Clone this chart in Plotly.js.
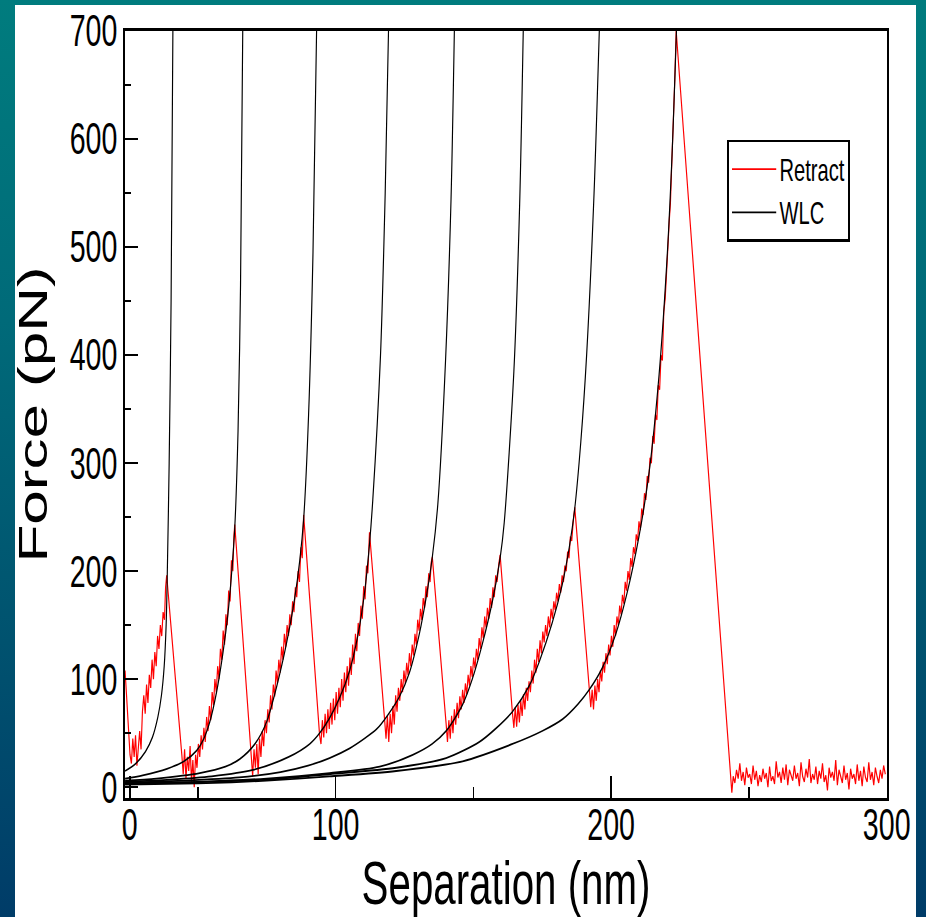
<!DOCTYPE html>
<html><head><meta charset="utf-8">
<script src="https://cdn.plot.ly/plotly-3.0.1.min.js"></script>
<style>
html,body{margin:0;padding:0;width:926px;height:917px;overflow:hidden;}
body{background:linear-gradient(to bottom,#007c7e 0%,#006a79 35%,#00526f 70%,#003c68 100%);position:relative;}
#panel{position:absolute;left:15px;top:5px;width:901px;height:912px;background:#fff;}
#chart{position:absolute;left:0;top:0;width:1425px;height:917px;transform:scaleX(0.65);transform-origin:0 0;}
</style></head><body><div id="panel"></div><div id="chart"></div>
<script>
// Separation (nm) / Force (pN) pairs
const retractPoints = [
[23.6,108],[24.2,80],[24.8,55],[25.4,30],[25.9,22],[26.4,45],[26.9,28],[27.4,48],[27.9,20],[28.4,38],[28.9,52],[29.4,35],[29.9,70],[30.4,85],[30.9,68],[31.4,95],[31.9,78],[32.4,104],[32.9,92],[33.4,118],[33.9,100],[34.4,125],[34.9,112],[35.4,140],[35.9,128],[36.4,150],[36.9,140],[37.4,162],[37.9,155],[38.3,185],[38.7,196],
[44.2,30],[44.7,12],[45.2,35],[45.7,8],[46.2,28],[46.7,15],[47.2,38],[47.7,5],[48.2,25],[48.7,0],[49.2,30],[49.7,18],[50.2,40],[50.7,28],[51.2,48],[51.7,35],[52.2,55],[52.7,42],[53.2,65],[53.7,52],[54.2,75],[54.7,62],[55.2,88],[55.7,76],[56.2,100],[56.7,88],[57.2,112],[57.7,100],[58.2,128],[58.7,118],[59.2,145],[59.7,132],[60.2,160],[60.7,150],[61.2,182],[61.7,172],[62.2,210],[62.7,200],[63.1,232],[63.4,243],
[69.5,25],[69.9,10],[70.4,35],[70.9,18],[71.4,40],[71.9,12],[72.4,45],[72.9,28],[73.4,52],[73.9,38],[74.4,62],[74.9,50],[75.4,72],[75.9,60],[76.4,85],[76.9,72],[77.4,95],[77.9,84],[78.4,108],[78.9,96],[79.4,118],[79.9,106],[80.4,130],[80.9,118],[81.4,142],[81.9,130],[82.4,150],[82.9,140],[83.4,160],[83.9,150],[84.4,172],[84.9,162],[85.4,185],[85.9,176],[86.4,200],[86.9,190],[87.4,222],[87.9,212],[88.4,252],
[94.2,48],[94.7,40],[95.2,62],[95.7,46],[96.2,68],[96.7,50],[97.2,72],[97.7,54],[98.2,78],[98.7,58],[99.2,82],[99.7,62],[100.2,88],[100.7,68],[101.2,92],[101.7,74],[102.2,100],[102.7,80],[103.2,106],[103.7,88],[104.2,112],[104.7,94],[105.2,120],[105.7,104],[106.2,132],[106.7,114],[107.2,142],[107.7,126],[108.2,152],[108.7,140],[109.2,168],[109.7,156],[110.2,186],[110.7,174],[111.2,205],[111.7,198],[112.3,236],
[117.8,62],[118.3,45],[118.8,66],[119.3,42],[119.8,68],[120.3,50],[120.8,75],[121.3,58],[121.8,85],[122.3,70],[122.8,92],[123.3,80],[123.8,100],[124.3,88],[124.8,108],[125.3,96],[125.8,115],[126.3,104],[126.8,124],[127.3,112],[127.8,132],[128.3,122],[128.8,142],[129.3,132],[129.8,155],[130.3,145],[130.8,165],[131.3,155],[131.8,175],[132.3,166],[132.8,186],[133.3,176],[133.8,198],[134.3,190],[134.7,208],[135.1,213],
[140.1,59],[140.6,42],[141.1,62],[141.6,45],[142.1,66],[142.6,50],[143.1,72],[143.6,58],[144.1,78],[144.6,64],[145.1,84],[145.6,72],[146.1,90],[146.6,78],[147.1,96],[147.6,86],[148.1,104],[148.6,94],[149.1,112],[149.6,102],[150.1,120],[150.6,110],[151.1,128],[151.6,118],[152.1,138],[152.6,128],[153.1,148],[153.6,138],[154.1,158],[154.6,148],[155.1,166],[155.6,156],[156.1,175],[156.6,166],[157.1,185],[157.6,176],[158.1,196],[158.6,190],[159.2,206],[159.7,215],
[164.2,68],[164.7,55],[165.2,74],[165.7,56],[166.2,76],[166.7,60],[167.2,80],[167.7,66],[168.2,86],[168.7,72],[169.2,92],[169.7,80],[170.2,98],[170.7,88],[171.2,108],[171.7,96],[172.2,118],[172.7,106],[173.2,128],[173.7,116],[174.2,136],[174.7,124],[175.2,144],[175.7,134],[176.2,150],[176.7,140],[177.2,158],[177.7,148],[178.2,165],[178.7,156],[179.2,172],[179.7,164],[180.2,180],[180.7,172],[181.2,188],[181.7,180],[182.2,196],[182.7,190],[183.2,205],[183.7,200],[184.2,218],[184.7,212],[185.2,232],[185.7,228],[186.2,245],[186.8,259],
[192.6,74],[193.1,90],[193.6,72],[194.1,94],[194.6,80],[195.1,100],[195.6,88],[196.1,108],[196.6,98],[197.1,116],[197.6,106],[198.1,124],[198.6,114],[199.1,132],[199.6,122],[200.1,140],[200.6,130],[201.1,150],[201.6,140],[202.1,158],[202.6,150],[203.1,168],[203.6,160],[204.1,178],[204.6,170],[205.1,190],[205.6,182],[206.1,200],[206.6,192],[207.1,212],[207.6,204],[208.1,222],[208.6,216],[209.1,234],[209.6,228],[210.1,246],[210.6,238],[211.1,258],[211.6,252],[212.1,272],[212.6,266],[213.1,288],[213.6,282],[214.1,305],[214.6,300],[215.1,325],[215.6,318],[216.1,345],[216.6,340],[217.1,372],[217.6,368],[218.1,400],[218.6,395],[219.1,440],[219.6,452],[220.1,480],[220.6,500],[221.1,525],[221.5,540],[221.9,570],[222.3,595],[222.7,625],[223.1,655],[223.6,700],
[243.8,-5],[244.3,10],[244.9,4],[245.5,16],[246.1,8],[246.7,22],[247.3,6],[247.9,14],[248.5,2],[249.1,18],[249.7,9],[250.3,12],[250.9,3],[251.5,20],[252.1,7],[252.7,15],[253.3,1],[253.9,11],[254.5,5],[255.1,17],[255.7,8],[256.3,13],[256.9,0],[257.5,19],[258.1,6],[258.7,10],[259.3,3],[259.9,24],[260.5,9],[261.1,14],[261.7,4],[262.3,18],[262.9,7],[263.5,21],[264.1,2],[264.7,16],[265.3,11],[265.9,6],[266.5,20],[267.1,8],[267.7,13],[268.3,1],[268.9,23],[269.5,10],[270.1,5],[270.7,17],[271.3,9],[271.9,26],[272.5,4],[273.1,12],[273.7,7],[274.3,19],[274.9,3],[275.5,15],[276.1,8],[276.7,22],[277.3,5],[277.9,11],[278.5,-3],[279.1,18],[279.7,9],[280.3,14],[280.9,6],[281.5,25],[282.1,2],[282.7,16],[283.3,10],[283.9,4],[284.5,20],[285.1,7],[285.7,13],[286.3,-2],[286.9,17],[287.5,8],[288.1,12],[288.7,3],[289.3,21],[289.9,6],[290.5,15],[291.1,1],[291.7,19],[292.3,9],[292.9,5],[293.5,23],[294.1,7],[294.7,14],[295.3,2],[295.9,18],[296.5,10],[297.1,4],[297.7,16],[298.3,8],[298.9,20],[299.5,12]
];
const wlc1 = [[23.6,15],[27.5,22],[31,33],[33.5,46],[35.5,65],[36.8,85],[37.8,112],[38.5,150],[38.9,195],[39.6,300],[40.3,450],[40.95,700]];
const wlc2 = [[23.6,8],[30,11],[38.8,17],[45,24],[49.6,34],[52,44],[54.3,60],[56.8,88],[59.1,124],[61,162],[62.2,196],[63.4,240],[64.6,330],[65.5,465],[66.3,700]];
const wlc3 = [[23.6,6],[35,8],[50.7,13],[60,19],[65.2,26],[70.7,40],[74.9,60],[78.5,92],[82.1,132],[85.1,174],[87,210],[88.4,248],[90.2,345],[91.8,495],[93.1,700]];
const wlc4 = [[23.6,5],[40,7],[55,10],[70,16],[83,28],[90.6,40],[94.2,50],[97.8,64],[101.5,83],[105.1,108],[108.2,142],[110.6,182],[112.3,225],[113.5,266],[116.3,400],[118,550],[119.2,700]];
const wlc5 = [[23.6,4],[45,6],[65,9],[80,14],[90,20],[97.8,27],[105.1,36],[111,46],[115,54],[119,67],[123.2,84],[126.8,106],[130.4,142],[132.9,176],[135.1,213],[137.1,262],[139.9,395],[141.9,545],[143.1,700]];
const wlc6 = [[23.6,3.5],[50,5],[75,8],[97.8,13],[116,19],[128,30],[135,40],[140.1,52],[146,76],[149.6,100],[153.3,133],[156.9,172],[159.7,212],[161.2,245],[164.7,385],[166.8,540],[168.1,700]];
const wlc7 = [[23.6,3],[50,4.5],[75,7],[97.8,12],[122,18],[140.1,27],[152.2,42],[158,54],[164.2,70],[170.3,94],[173.9,116],[178.6,152],[182.2,187],[184.8,222],[186.7,256],[189,320],[191.1,400],[193.8,550],[195.7,700]];
const wlc8 = [[23.6,2.5],[50,3.5],[75,6],[97.8,10],[122,15],[146.1,24],[164.2,40],[175,52],[182.4,63],[188,77],[192,90],[196.7,110],[201.7,142],[205.8,180],[210.1,232],[213.8,292],[217.4,382],[220.3,490],[222.1,585],[223.7,700]];
const wlcCurves = [wlc1, wlc2, wlc3, wlc4, wlc5, wlc6, wlc7, wlc8];
const xTickVals = [25.3, 100, 200, 300];
const xTickText = ['0', '100', '200', '300'];
const xMinorVals = [50, 150, 250];

const FONT = '"Liberation Sans", Arial, Helvetica, sans-serif';
const traces = [{
  type: 'scatter', mode: 'lines', name: 'Retract',
  x: retractPoints.map(p => p[0]), y: retractPoints.map(p => p[1]),
  line: {color: '#ff0000', width: 1.8}
}];
wlcCurves.forEach((c, i) => traces.push({
  type: 'scatter', mode: 'lines', name: 'WLC', legendgroup: 'wlc', showlegend: i === 0,
  x: c.map(p => p[0]), y: c.map(p => p[1]),
  line: {color: '#000000', width: 1.8, shape: 'spline', smoothing: 0.8}
}));

const axisCommon = {
  showline: true, mirror: true, linecolor: '#000', linewidth: 2.6,
  showgrid: false, zeroline: false, ticks: 'inside', tickcolor: '#000', tickwidth: 2.5,
  tickfont: {family: FONT, size: 44, color: '#000'}, automargin: false
};
const layout = {
  width: 1425, height: 917,
  margin: {l: 192, r: 60, t: 31, b: 119},
  paper_bgcolor: 'rgba(0,0,0,0)', plot_bgcolor: '#ffffff',
  font: {family: FONT, color: '#000'},
  showlegend: true,
  xaxis: Object.assign({}, axisCommon, {
    range: [23.5, 300.2], tickmode: 'array', tickvals: xTickVals, ticktext: xTickText, ticklen: 22,
    ticklabelstandoff: -13,
    minor: {tickmode: 'array', tickvals: xMinorVals, ticks: 'inside', ticklen: 11, tickwidth: 2.5, tickcolor: '#000', showgrid: false},
    title: {text: 'Separation (nm)', font: {family: FONT, size: 62, color: '#000'}, standoff: 1}
  }),
  yaxis: Object.assign({}, axisCommon, {
    range: [-10, 700], tickmode: 'linear', tick0: 0, dtick: 100, ticklen: 20,
    minor: {dtick: 50, tick0: 0, ticks: 'inside', ticklen: 10, tickwidth: 2.5, tickcolor: '#000', showgrid: false},
    title: {text: 'Force (pN)', font: {family: FONT, size: 62, color: '#000'}, standoff: 14}
  }),
  legend: {
    x: 0.79, y: 0.858, xanchor: 'left', yanchor: 'top',
    bgcolor: '#ffffff', bordercolor: '#000', borderwidth: 2.5,
    font: {family: FONT, size: 31, color: '#000'}, itemwidth: 68, tracegroupgap: 0
  }
};
Plotly.newPlot('chart', traces, layout, {displayModeBar: false, staticPlot: true});
</script></body></html>
